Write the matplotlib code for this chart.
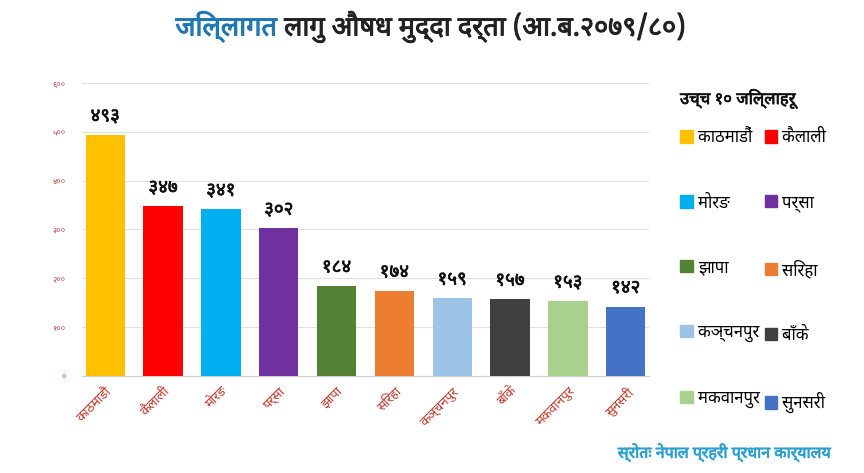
import matplotlib
matplotlib.use("Agg")
import matplotlib.pyplot as plt
import matplotlib.patches as mpatches
import matplotlib.patheffects as pe

plt.rcParams['font.family'] = ['Noto Sans Devanagari', 'DejaVu Sans']

# data
districts = ['काठमाडौं', 'कैलाली', 'मोरङ', 'पर्सा', 'झापा',
             'सिरहा', 'कञ्चनपुर', 'बाँके', 'मकवानपुर', 'सुनसरी']
cases = [493, 347, 341, 302, 184, 174, 159, 157, 153, 142]
colors = ['#FFC000', '#FF0000', '#00B0F0', '#7030A0', '#548235',
          '#ED7D31', '#9DC3E6', '#404040', '#A9D18E', '#4472C4']
yticks = [0, 100, 200, 300, 400, 500, 600]

def np_digits(n):
    # convert to devanagari digits
    return str(n).translate(str.maketrans('0123456789', '०१२३४५६७८९'))

def fake_bold(c, w=0.6):
    # the devanagari font has no bold face, so thicken with a stroke
    return [pe.withStroke(linewidth=w, foreground=c)]

fig = plt.figure(figsize=(8.64, 4.73), dpi=100)
ax = fig.add_axes([0.095, 0.205, 0.656, 0.62])

x = range(len(districts))
bars = ax.bar(x, cases, width=0.68, color=colors, zorder=3)
for b, v in zip(bars, cases):
    ax.annotate(np_digits(v), (b.get_x() + b.get_width() / 2, v),
                xytext=(0, 7), textcoords='offset points',
                ha='center', va='bottom', fontsize=13.5, color='#111111',
                path_effects=fake_bold('#111111', 0.5))

ax.set_xlim(-0.4, 9.4)
ax.set_ylim(0, 600)
ax.set_yticks(yticks)
ax.set_yticklabels([np_digits(t) for t in yticks], fontsize=6, color='#b04a4a')
ax.set_xticks(list(x))
ax.set_xticklabels(districts, rotation=45, ha='right', rotation_mode='anchor',
                   fontsize=9.5, color='#c0392b')
ax.tick_params(length=0, pad=6)
ax.tick_params(axis='y', pad=12)
ax.grid(axis='y', color='#e0e0e0', lw=0.8, zorder=0)
for s in ['top', 'right', 'left']:
    ax.spines[s].set_visible(False)
ax.spines['bottom'].set_color('#d0d0d0')

# title with first word coloured
t1 = fig.text(0.203, 0.925, 'जिल्लागत', fontsize=19.5, color='#1F77B4',
              ha='left', va='baseline', path_effects=fake_bold('#1F77B4', 0.7))
ax.annotate(' लागु औषध मुद्दा दर्ता (आ.ब.२०७९/८०)', xy=(1, 0), xycoords=t1,
            fontsize=19.5, color='#222222', path_effects=fake_bold('#222222', 0.7),
            ha='left', va='bottom', annotation_clip=False)

# legend, row order like the original
fig.text(0.787, 0.78, 'उच्च १० जिल्लाहरू', fontsize=12, color='#111111',
         ha='left', va='baseline', path_effects=fake_bold('#111111', 0.5))
handles = [mpatches.Patch(color=c, label=d) for c, d in zip(colors, districts)]
order = [0, 2, 4, 6, 8, 1, 3, 5, 7, 9]
leg = fig.legend([handles[i] for i in order], [districts[i] for i in order],
                 ncol=2, loc='upper left', bbox_to_anchor=(0.77, 0.757),
                 frameon=False, fontsize=12, labelspacing=2.92,
                 handlelength=0.75, handleheight=0.75, handletextpad=0.3,
                 columnspacing=0.3)

fig.text(0.961, 0.032, 'स्रोतः नेपाल प्रहरी प्रधान कार्यालय', fontsize=11.5,
         color='#2a9fd0', ha='right', va='baseline',
         path_effects=fake_bold('#2a9fd0', 0.5))

fig.savefig('out.png')
